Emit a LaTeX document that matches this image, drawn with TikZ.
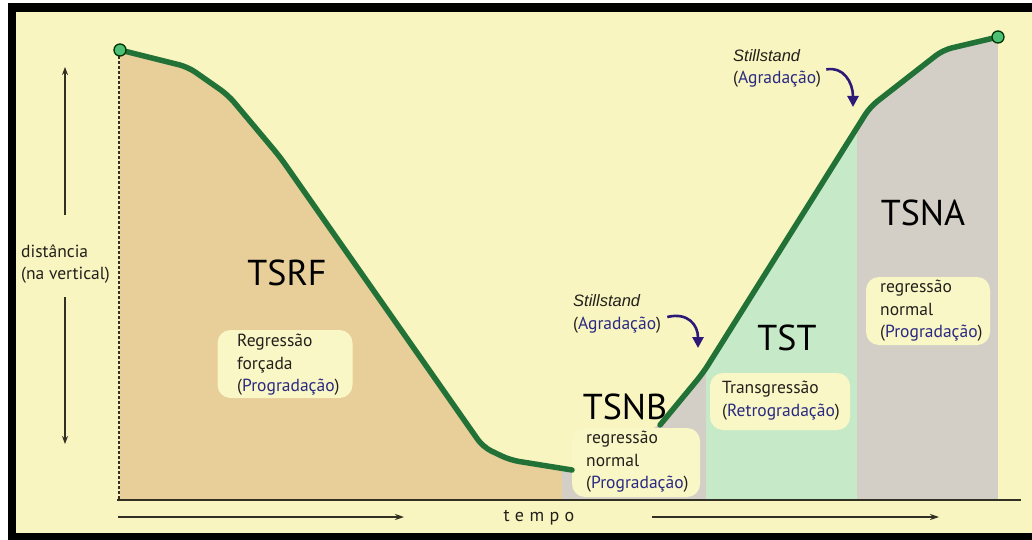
\documentclass[tikz,border=0pt]{standalone}
\usepackage{fontspec}
\setmainfont{PT Sans}
\newfontfamily\spacedfont[LetterSpace=30]{PT Sans}
\newfontfamily\arialish{Liberation Sans}
\usetikzlibrary{arrows.meta}
\definecolor{bgyellow}{RGB}{248,245,192}
\definecolor{boxyellow}{RGB}{250,247,198}
\definecolor{tanfill}{RGB}{232,206,153}
\definecolor{greyfill}{RGB}{212,207,198}
\definecolor{greenfill}{RGB}{198,234,200}
\definecolor{curvegreen}{RGB}{34,114,56}
\definecolor{dotgreen}{RGB}{78,192,118}
\definecolor{progblue}{RGB}{42,42,130}
\definecolor{arrowpurple}{RGB}{45,25,120}
\definecolor{darkline}{RGB}{50,48,35}
\definecolor{txt}{RGB}{35,32,28}
\tikzset{
  curve/.style={line width=5.5pt, draw=curvegreen, rounded corners=9pt, line cap=round, line join=round},
  endpt/.style={circle, fill=dotgreen, draw=black!80!green, line width=1.3pt, minimum size=12pt, inner sep=0pt},
  biglbl/.style={font=\fontsize{36}{40}\selectfont, text=black, inner sep=0pt},
  small/.style={font=\fontsize{17.5}{22.5}\selectfont, text=txt, align=left, inner sep=0pt},
  tbox/.style={fill=boxyellow, rounded corners=13pt, inner sep=0pt},
  vertarrow/.style={line width=1.4pt, draw=darkline, -{Stealth[length=8pt,width=6pt]}},
  timearrow/.style={line width=1.4pt, draw=darkline, -{Stealth[length=9pt,width=6pt]}},
  stillarrow/.style={line width=2.6pt, draw=arrowpurple, -{Triangle[length=11pt,width=11pt]}},
}
\newcommand{\pb}[1]{\textcolor{progblue}{#1}}
\begin{document}
\begin{tikzpicture}[x=1pt,y=-1pt]
\useasboundingbox (0,0) rectangle (1032,540);
\fill[white] (0,0) rectangle (1032,540);
\fill[black] (8,3) rectangle (1032,540);
\fill[bgyellow] (16,12) rectangle (1032,533);

% filled regions under the curve
\begin{scope}
\clip (120,500) -- (120,50) -- (188,67) [rounded corners=9pt] -- (228,95) -- (280,157) -- (483,447) -- (510,460) -- (570,470) -- (660,425) -- (703,373) -- (870,107) -- (943,50) -- (998,37) [sharp corners] -- (998,500) -- cycle;
\fill[tanfill] (118,30) rectangle (562,500);
\fill[greyfill] (562,30) rectangle (706,500);
\fill[greenfill] (706,30) rectangle (857,500);
\fill[greyfill] (857,30) rectangle (998,500);
\end{scope}

% axes
\draw[darkline, line width=1.8pt, dash pattern=on 3pt off 2pt] (119,56) -- (119,500);
\draw[darkline, line width=2pt] (117,500) -- (1021,500);

% boxes
\node[tbox, minimum width=135pt, minimum height=68pt] (bRF) at (285,364) {};
\node[tbox, minimum width=128pt, minimum height=69pt] (bNB) at (636,462.5) {};
\node[tbox, minimum width=140pt, minimum height=57pt] (bST) at (780,401.5) {};
\node[tbox, minimum width=124pt, minimum height=68pt] (bNA) at (928,311) {};

% curve
\draw[curve] (120,50) -- (188,67) -- (228,95) -- (280,157) -- (483,447) -- (510,460) -- (572,470);
\draw[curve] (660,425) -- (703,373) -- (870,107) -- (943,50) -- (998,37);
\node[endpt] (p0) at (120,50) {};
\node[endpt] (p1) at (998,37) {};

% big labels
\node[biglbl] (TSRF) at (287,273) {TSRF};
\node[biglbl] (TSNB) at (625,407) {TSNB};
\node[biglbl] (TST) at (787,338) {TST};
\node[biglbl] (TSNA) at (923,213) {TSNA};

% box texts
\node[small, anchor=west] (tRF) at (237,365) {Regressão\\forçada\\(\pb{Progradação})};
\node[small, anchor=west] (tNB) at (586,462) {regressão\\normal\\(\pb{Progradação})};
\node[small, anchor=west] (tST) at (722,400.5) {Transgressão\\(\pb{Retrogradação})};
\node[small, anchor=west] (tNA) at (880,311) {regressão\\normal\\(\pb{Progradação})};

% stillstand labels
\node[small, anchor=west] (s1) at (573,314) {{\arialish\itshape\fontsize{16.5}{20}\selectfont Stillstand}\\(\pb{Agradação})};
\node[small, anchor=west] (s2) at (733,68.5) {{\arialish\itshape\fontsize{16.5}{20}\selectfont Stillstand}\\(\pb{Agradação})};
\coordinate (s1tip) at (698,348);
\coordinate (s2tip) at (853,107);
\draw[stillarrow] ([xshift=6pt,yshift=-3pt]s1.east) .. controls (688,312) and (698,325) .. (s1tip);
\draw[stillarrow] ([xshift=5pt,yshift=-1pt]s2.east) .. controls (843,66) and (853,82) .. (s2tip);

% vertical distance
\node[small, anchor=west] (dist) at (21,264) {distância\\(na vertical)};
\coordinate (vup0) at (65,215);
\coordinate (vup1) at (65,67);
\coordinate (vdn0) at (65,297);
\coordinate (vdn1) at (65,444);
\draw[vertarrow] (vup0) -- (vup1);
\draw[vertarrow] (vdn0) -- (vdn1);

% time
\node[font=\fontsize{18}{20}\selectfont\spacedfont, text=txt, inner sep=0pt] (tempo) at (539,518) {tempo};
\coordinate (ta0) at (118,517);
\coordinate (ta1) at (404,517);
\coordinate (tb0) at (652,517);
\coordinate (tb1) at (939,517);
\draw[timearrow] (ta0) -- (ta1);
\draw[timearrow] (tb0) -- (tb1);
\end{tikzpicture}
\end{document}
